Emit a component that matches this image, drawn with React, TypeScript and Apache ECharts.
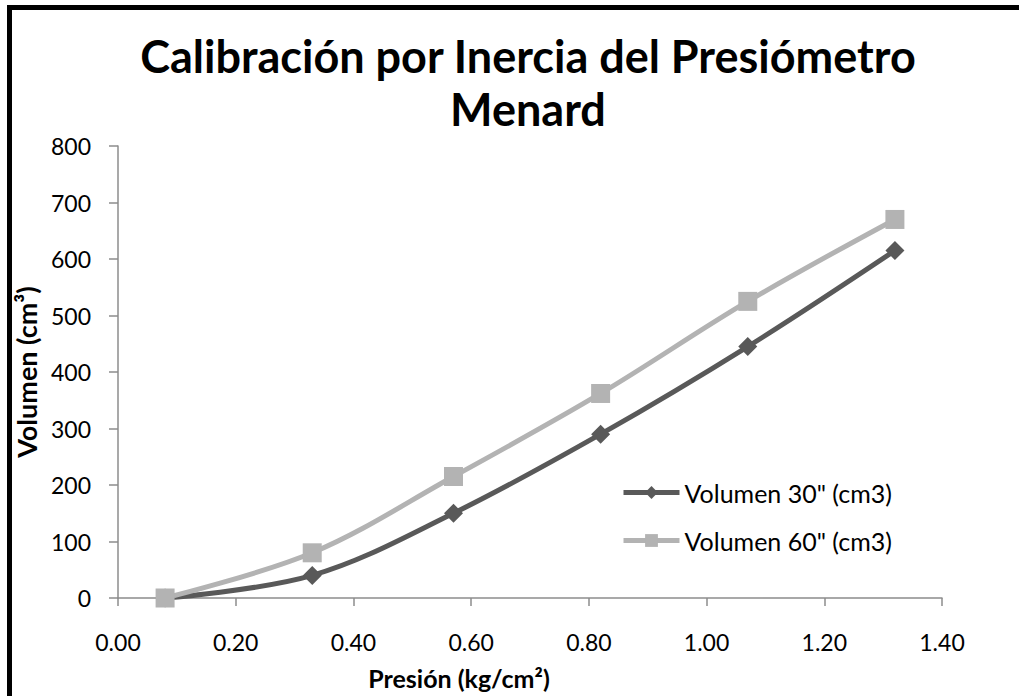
import React, { useEffect, useRef } from "react";
import * as echarts from "echarts";

// Pressure steps (kg/cm²) and the volumes read after 30" and 60"
const pressure = [0.08, 0.33, 0.57, 0.82, 1.07, 1.32];
const volume30 = [0, 40, 150, 290, 445, 615];
const volume60 = [0, 80, 215, 362, 525, 670];
const seriesNames = ['Volumen 30" (cm3)', 'Volumen 60" (cm3)'];

const titleText = "Calibración por Inercia del Presiómetro\nMenard";
const xTitle = "Presión (kg/cm²)";
const yTitle = "Volumen (cm³)";

const FONT = "Lato, 'Open Sans', sans-serif";
const AXIS_GRAY = "#8c8c8c";
const DARK = "#595959";
const LIGHT = "#b3b3b3";

export default function App() {
  const ref = useRef<HTMLDivElement>(null);

  useEffect(() => {
    if (!ref.current) return;
    const chart = echarts.init(ref.current, undefined, { renderer: "svg" });
    const pairs = (ys: number[]) => pressure.map((x, i) => [x, ys[i]]);

    chart.setOption({
      animation: false,
      backgroundColor: "transparent",
      textStyle: { fontFamily: FONT },
      title: {
        text: titleText,
        left: 523,
        textAlign: "center",
        top: 24,
        textStyle: {
          fontFamily: FONT,
          fontWeight: "bold",
          fontSize: 45,
          lineHeight: 53,
          color: "#000000",
        },
      },
      grid: { left: 118, top: 146, right: 77, bottom: 98, containLabel: false },
      legend: {
        orient: "vertical",
        left: 621,
        top: 480,
        padding: 0,
        itemWidth: 56,
        itemHeight: 16,
        itemGap: 23,
        lineStyle: { width: 5 },
        textStyle: { fontFamily: FONT, fontSize: 25, lineHeight: 20, color: "#000000" },
        data: seriesNames,
      },
      xAxis: {
        type: "value",
        min: 0,
        max: 1.4,
        interval: 0.2,
        name: xTitle,
        nameLocation: "middle",
        nameGap: 67,
        nameTextStyle: {
          fontFamily: FONT,
          fontWeight: "bold",
          fontSize: 25,
          color: "#000000",
          padding: [0, 142, 0, 0],
        },
        axisLine: { show: true, lineStyle: { color: AXIS_GRAY, width: 1.5 } },
        axisTick: { show: true, length: 8, lineStyle: { color: AXIS_GRAY, width: 1.5 } },
        axisLabel: {
          margin: 32,
          fontFamily: FONT,
          fontSize: 23,
          color: "#000000",
          formatter: (v: number) => v.toFixed(2),
        },
        splitLine: { show: false },
      },
      yAxis: {
        type: "value",
        min: 0,
        max: 800,
        interval: 100,
        name: yTitle,
        nameLocation: "middle",
        nameGap: 72,
        nameTextStyle: {
          fontFamily: FONT,
          fontWeight: "bold",
          fontSize: 27,
          color: "#000000",
        },
        axisLine: { show: true, lineStyle: { color: AXIS_GRAY, width: 1.5 } },
        axisTick: { show: true, length: 9, lineStyle: { color: AXIS_GRAY, width: 1.5 } },
        axisLabel: { margin: 27, fontFamily: FONT, fontSize: 23, color: "#000000" },
        splitLine: { show: false },
      },
      series: [
        {
          name: seriesNames[0],
          type: "line",
          data: pairs(volume30),
          smooth: 0.35,
          symbol: "diamond",
          symbolSize: 19,
          itemStyle: { color: DARK },
          lineStyle: { color: DARK, width: 5 },
        },
        {
          name: seriesNames[1],
          type: "line",
          data: pairs(volume60),
          smooth: 0.35,
          symbol: "rect",
          symbolSize: 19,
          itemStyle: { color: LIGHT },
          lineStyle: { color: LIGHT, width: 5 },
        },
      ],
    });

    return () => chart.dispose();
  }, []);

  return (
    <div
      style={{
        position: "fixed",
        left: 0,
        top: 0,
        width: 1019,
        height: 696,
        background: "#fff",
        overflow: "hidden",
      }}
    >
      {/* chart frame: only its left and top edges fall inside the view */}
      <div
        style={{
          position: "absolute",
          left: 7,
          top: 5,
          width: 2000,
          height: 2000,
          borderLeft: "5px solid #000",
          borderTop: "5px solid #000",
        }}
      />
      <div ref={ref} style={{ position: "absolute", left: 0, top: 0, width: 1019, height: 696 }} />
    </div>
  );
}
